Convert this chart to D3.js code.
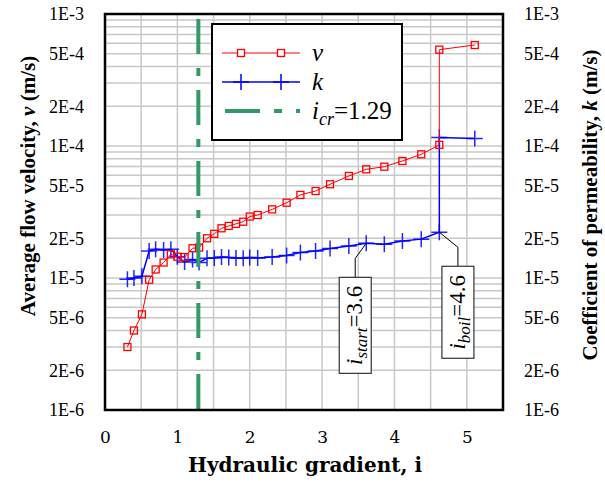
<!DOCTYPE html>
<html lang="en">
<head>
<meta charset="utf-8">
<title>Flow velocity and permeability vs hydraulic gradient</title>
<script src="https://d3js.org/d3.v7.min.js"></script>
<style>
  body { margin: 0; background: #fff; }
  .tick text { font-family: "Liberation Serif", "Times New Roman", serif; font-size: 18px; fill: #000; }
  .xaxis .tick text { font-family: "DejaVu Serif", serif; font-size: 17px; }
  .title { font-family: "Liberation Serif", "Times New Roman", serif; font-weight: bold; font-size: 21px; }
  .xtitle { font-family: "DejaVu Serif", serif; font-weight: bold; font-size: 20px; }
  .leg { font-family: "Liberation Serif", "Times New Roman", serif; font-size: 25px; }
  .note { font-family: "Liberation Serif", "Times New Roman", serif; font-size: 23px; }
</style>
</head>
<body>
<div id="chart"></div>
<script>
// hydraulic gradient of each stage
var gradient = [0.31, 0.40, 0.51, 0.61, 0.70, 0.81, 0.91, 1.00, 1.10, 1.21, 1.30, 1.41, 1.51, 1.61, 1.71, 1.81,
                1.91, 2.00, 2.11, 2.31, 2.51, 2.70, 2.91, 3.11, 3.37, 3.61, 3.86, 4.11, 4.37, 4.62, 4.62, 5.11];
// average flow velocity v (m/s)
var velocity = [3.0e-6, 4.0e-6, 5.3e-6, 9.7e-6, 1.16e-5, 1.31e-5, 1.51e-5, 1.45e-5, 1.44e-5, 1.68e-5, 1.70e-5,
                2.0e-5, 2.16e-5, 2.38e-5, 2.48e-5, 2.57e-5, 2.67e-5, 2.92e-5, 3.0e-5, 3.31e-5, 3.72e-5, 4.26e-5,
                4.56e-5, 5.13e-5, 5.93e-5, 6.66e-5, 6.97e-5, 7.7e-5, 8.65e-5, 1.02e-4, 5.37e-4, 5.82e-4];
// coefficient of permeability k (m/s)
var permeability = [9.8e-6, 1.0e-5, 1.03e-5, 1.6e-5, 1.65e-5, 1.63e-5, 1.65e-5, 1.45e-5, 1.32e-5, 1.38e-5, 1.31e-5,
                    1.41e-5, 1.42e-5, 1.44e-5, 1.43e-5, 1.42e-5, 1.41e-5, 1.43e-5, 1.42e-5, 1.44e-5, 1.48e-5, 1.56e-5,
                    1.6e-5, 1.67e-5, 1.75e-5, 1.83e-5, 1.80e-5, 1.91e-5, 1.97e-5, 2.22e-5, 1.16e-4, 1.14e-4];
var yTicks = [1e-3, 5e-4, 2e-4, 1e-4, 5e-5, 2e-5, 1e-5, 5e-6, 2e-6, 1e-6];
var xTicks = [0, 1, 2, 3, 4, 5];
var iCr = 1.29, iStart = 3.61, iBoil = 4.62;

var W = 605, H = 482;
var margin = {top: 14, right: 102, bottom: 72, left: 105};

var svg = d3.select("#chart").append("svg").attr("width", W).attr("height", H);

var x = d3.scaleLinear().domain([0, 5.5]).range([margin.left, W - margin.right]);
var y = d3.scaleLog().domain([1e-6, 1e-3]).range([H - margin.bottom, margin.top]);

var fmt = function(d) {
  var e = Math.floor(Math.log10(d) + 1e-9);
  return Math.round(d / Math.pow(10, e)) + "E" + e;
};

// grid
var minor = [];
[-6, -5, -4].forEach(function(e) { for (var m = 1; m <= 9; m++) minor.push(m * Math.pow(10, e)); });
svg.append("g").selectAll("line").data(minor).enter().append("line")
  .attr("x1", x(0)).attr("x2", x(5.5))
  .attr("y1", function(d) { return y(d); }).attr("y2", function(d) { return y(d); })
  .attr("stroke", "#c8c8c8").attr("stroke-width", 1.5);
svg.append("g").selectAll("line").data(d3.range(0.5, 5.5, 0.5)).enter().append("line")
  .attr("y1", y(1e-6)).attr("y2", y(1e-3))
  .attr("x1", function(d) { return x(d); }).attr("x2", function(d) { return x(d); })
  .attr("stroke", "#c8c8c8").attr("stroke-width", 1.5);

// axes
svg.append("g").attr("transform", "translate(" + (margin.left - 18) + ",0)")
  .call(d3.axisLeft(y).tickValues(yTicks).tickFormat(fmt).tickSize(0))
  .call(function(g) { g.select(".domain").remove(); });
svg.append("g").attr("transform", "translate(" + (W - margin.right + 18) + ",0)")
  .call(d3.axisRight(y).tickValues(yTicks).tickFormat(fmt).tickSize(0))
  .call(function(g) { g.select(".domain").remove(); });
svg.append("g").attr("class", "xaxis").attr("transform", "translate(0," + (H - margin.bottom + 18) + ")")
  .call(d3.axisBottom(x).tickValues(xTicks).tickFormat(d3.format("d")).tickSize(0))
  .call(function(g) { g.select(".domain").remove(); });

// series k
var pts = gradient.map(function(g, i) { return {i: g, v: velocity[i], k: permeability[i]}; });
var lineK = d3.line().x(function(d) { return x(d.i); }).y(function(d) { return y(d.k); });
var lineV = d3.line().x(function(d) { return x(d.i); }).y(function(d) { return y(d.v); });

svg.append("path").datum(pts).attr("d", lineK).attr("fill", "none")
  .attr("stroke", "#0000ff").attr("stroke-width", 1.5);
function plus(g, cx, cy) {
  g.append("path").attr("d", "M" + (cx - 8) + "," + cy + "h16M" + cx + "," + (cy - 8) + "v16")
    .attr("stroke", "#0000ff").attr("stroke-width", 1.5).attr("fill", "none");
}
var gk = svg.append("g").attr("opacity", 0.85);
pts.forEach(function(d) { plus(gk, x(d.i), y(d.k)); });

// series v
svg.append("path").datum(pts).attr("d", lineV).attr("fill", "none")
  .attr("stroke", "#ff0000").attr("stroke-width", 1);
svg.append("g").selectAll("rect").data(pts).enter().append("rect")
  .attr("x", function(d) { return x(d.i) - 3.5; }).attr("y", function(d) { return y(d.v) - 3.5; })
  .attr("width", 7).attr("height", 7)
  .attr("fill", "none").attr("stroke", "#ff0000").attr("stroke-width", 1.3);

// critical gradient
svg.append("line").attr("x1", x(iCr)).attr("x2", x(iCr)).attr("y1", y(1e-3) + 5).attr("y2", y(1e-6))
  .attr("stroke", "#339966").attr("stroke-width", 4).attr("stroke-dasharray", "35,14,8,14");

// frame
svg.append("rect").attr("x", x(0)).attr("y", y(1e-3)).attr("width", x(5.5) - x(0)).attr("height", y(1e-6) - y(1e-3))
  .attr("fill", "none").attr("stroke", "#000").attr("stroke-width", 2.5);

// callouts
function callout(ix, kv, dx, top, h, sub, val) {
  var px = x(ix), py = y(kv), cx = px + dx;
  svg.append("path").attr("d", "M" + px + "," + py + "L" + cx + "," + (py + 15) + "V" + (py + top))
    .attr("fill", "none").attr("stroke", "#000").attr("stroke-width", 1);
  svg.append("rect").attr("x", cx - 16).attr("y", py + top).attr("width", 32).attr("height", h)
    .attr("fill", "#fff").attr("stroke", "#333").attr("stroke-width", 1.2);
  var t = svg.append("text").attr("class", "note")
    .attr("transform", "translate(" + (cx + 7) + "," + (py + top + h / 2) + ") rotate(-90)")
    .attr("text-anchor", "middle");
  t.append("tspan").attr("font-style", "italic").text("i");
  t.append("tspan").attr("font-style", "italic").attr("font-size", "17px").attr("dy", 5).text(sub);
  t.append("tspan").attr("dy", -5).text("=" + val);
}
callout(iStart, permeability[25], -11, 34, 96, "start", "3.6");
callout(iBoil, permeability[29], 18.6, 34, 92, "boil", "4.6");

// legend
var lg = svg.append("g").attr("transform", "translate(212,24)");
lg.append("rect").attr("width", 190).attr("height", 116).attr("fill", "#fff")
  .attr("stroke", "#000").attr("stroke-width", 2);
lg.append("line").attr("x1", 10).attr("x2", 88).attr("y1", 29).attr("y2", 29).attr("stroke", "#ff0000");
[29, 69].forEach(function(mx) {
  lg.append("rect").attr("x", mx - 3.5).attr("y", 25.5).attr("width", 7).attr("height", 7)
    .attr("fill", "#fff").attr("stroke", "#ff0000").attr("stroke-width", 1.3);
});
lg.append("line").attr("x1", 10).attr("x2", 88).attr("y1", 58).attr("y2", 58)
  .attr("stroke", "#0000ff").attr("stroke-width", 1.5);
[29, 69].forEach(function(mx) { plus(lg, mx, 58); });
lg.append("line").attr("x1", 13).attr("x2", 88).attr("y1", 87).attr("y2", 87)
  .attr("stroke", "#339966").attr("stroke-width", 4).attr("stroke-dasharray", "35,14,8,14");
lg.append("text").attr("class", "leg").attr("x", 100).attr("y", 37).attr("font-style", "italic").text("v");
lg.append("text").attr("class", "leg").attr("x", 100).attr("y", 66).attr("font-style", "italic").text("k");
var tc = lg.append("text").attr("class", "leg").attr("x", 100).attr("y", 95);
tc.append("tspan").attr("font-style", "italic").text("i");
tc.append("tspan").attr("font-style", "italic").attr("font-size", "18px").attr("dy", 6).text("cr");
tc.append("tspan").attr("dy", -6).text("=1.29");

// axis titles
var lt = svg.append("text").attr("class", "title").attr("text-anchor", "middle")
  .attr("transform", "translate(35,186) rotate(-90)");
lt.append("tspan").text("Average flow velocity, ");
lt.append("tspan").attr("font-style", "italic").text("v");
lt.append("tspan").text(" (m/s)");
var rt = svg.append("text").attr("class", "title").attr("text-anchor", "middle")
  .attr("transform", "translate(597,205) rotate(-90)");
rt.append("tspan").text("Coefficient of permeability, ");
rt.append("tspan").attr("font-style", "italic").text("k");
rt.append("tspan").text(" (m/s)");
svg.append("text").attr("class", "xtitle").attr("text-anchor", "middle")
  .attr("x", 305).attr("y", 472).text("Hydraulic gradient, i");
</script>
</body>
</html>
